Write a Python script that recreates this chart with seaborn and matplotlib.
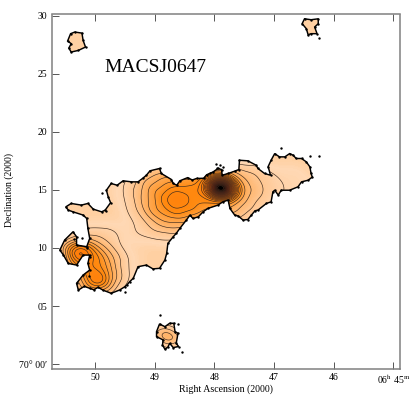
import numpy as np
import matplotlib
matplotlib.use("Agg")
import matplotlib.pyplot as plt
import seaborn as sns
from matplotlib.colors import LinearSegmentedColormap
from matplotlib.path import Path
from matplotlib.patches import PathPatch

# Sources: RA minutes past 06h, Dec arcmin past 70deg, relative brightness
peak_ra = [47.89, 48.66, 49.95, 50.26, 48.86, 48.72]
peak_dec = [15.17, 14.20, 7.16, 9.76, 2.60, 2.20]
peak_w = [95, 6, 10, 15, 9, 9]

lat_ra = [49.33,49.00,48.66,48.33,48.00,47.67,47.33,47.00,46.67,
          49.50,49.16,48.83,48.50,48.16,47.83,47.50,47.16,46.83,46.50,
          49.65,49.33,49.00,48.66,48.33,48.00,47.67,47.33,47.00,46.67,46.40,
          49.50,49.16,48.83,48.50,48.16,47.83,47.50,47.16,46.83,
          49.33,49.00,48.66,48.33,48.00,47.67,47.33,47.00,
          49.50,49.16,48.83,48.50,48.16,47.83,47.50,
          49.65,49.33,49.00,48.66,48.33,48.00,47.67,
          49.16,48.83,48.50,
          50.13,49.81,
          50.30,49.97,49.65,49.30,
          50.46,50.13,49.81,49.47,
          50.30,49.97,49.65,49.30,
          50.46,50.13,49.81,49.47,
          50.30,49.97,49.65,49.30,
          50.13,49.81,49.47,
          50.30,49.97,49.65]
lat_dec = ([16.6]*9 + [15.75]*10 + [14.9]*11 + [14.05]*9 + [13.2]*8 + [12.35]*7 + [11.5]*7 + [10.65]*3
           + [11.75]*2 + [10.9]*4 + [10.05]*4 + [9.2]*4 + [8.35]*4 + [7.5]*4 + [6.65]*3 + [5.8]*3)
lat_w = [3,6,8,10,10,7,5,2,2,
         2,7,11,12,13,11,7,4,2,2,
         1,5,12,15,16,14,11,7,3,2,1,
         2,8,14,16,14,10,7,3,2,
         4,12,16,14,10,8,4,1,
         1,4,10,10,6,4,3,
         1,2,5,6,4,2,2,
         1,2,1,
         2,2,
         4,5,2,1,
         8,12,6,1,
         18,15,6,1,
         8,17,11,2,
         6,17,7,1,
         10,7,1,
         2,5,2]

anchor_ra = [50.60, 46.00]
anchor_dec = [23.00, 3.00]
anchor_w = [48, 48]

# Footprint outlines
main_ra = [50.49,50.40,50.23,50.12,50.03,49.89,49.83,49.74,49.78,49.81,49.73,49.63,49.53,49.39,49.28,49.20,49.14,49.08,48.92,48.89,48.72,48.69,48.63,48.58,48.45,48.37,48.30,48.18,48.13,48.08,
           48.02,47.94,47.88,47.87,47.77,47.66,47.59,47.58,47.44,47.30,47.27,47.16,47.06,47.10,47.05,46.99,46.91,46.82,46.74,46.68,46.63,46.54,46.46,46.40,46.38,46.36,46.43,46.54,46.60,46.74,46.88,46.93,46.99,47.02,47.05,47.13,47.27,47.32,47.38,47.44,47.52,47.60,47.66,47.74,47.77,47.86,47.94,48.11,48.19,48.27,48.36,48.41,
           48.47,48.58,48.64,48.69,48.78,48.80,48.83,48.92,49.03,49.14,49.28,49.36,49.42,49.46,49.50,49.59,49.73,49.87,49.95,50.02,50.09,50.18,50.28,50.31,50.20,50.09,50.12,50.09,50.20,50.31,50.45,50.53,50.59,50.51,50.37,50.31,50.31,50.14,50.09,50.12,50.14,50.20,50.37,50.45]
main_dec = [13.54,13.83,13.69,13.83,13.34,13.11,13.26,13.90,14.40,14.97,15.55,15.40,15.78,15.69,15.69,16.00,16.26,16.64,16.84,16.41,15.89,15.55,15.40,15.78,16.05,15.85,15.98,16.00,16.30,16.41,
            16.55,16.84,16.75,16.26,16.41,16.61,16.75,17.55,17.50,17.12,16.84,16.41,16.26,17.00,17.55,18.12,17.84,17.84,18.12,17.98,17.70,17.70,17.41,16.98,16.41,16.10,15.83,15.69,15.26,14.97,14.97,14.55,14.97,14.83,13.97,13.83,13.26,13.20,12.83,12.45,12.40,12.75,12.83,13.40,14.12,13.97,13.69,13.40,13.11,12.68,12.54,12.83,
            12.40,11.68,11.25,10.97,10.39,9.53,8.96,8.25,8.20,8.53,8.39,7.39,7.10,6.85,6.67,6.38,6.10,6.38,6.62,6.40,6.53,6.70,6.38,6.96,7.67,8.10,8.67,9.39,9.39,8.53,8.67,9.39,9.82,10.68,11.39,10.97,10.25,10.11,10.82,11.68,12.54,12.83,13.11,13.26]
nw_ra = [50.41,50.34,50.22,50.20,50.16,50.28,50.40,50.44,50.40,50.46]
nw_dec = [28.44,28.58,28.49,27.86,27.29,27.00,26.86,27.20,27.58,27.81]
s_ra = [48.97,48.92,48.83,48.75,48.68,48.66,48.61,48.64,48.60,48.69,48.75,48.78,48.83,48.87,48.86,48.97]
s_dec = [2.80,3.46,3.23,3.52,3.52,2.80,2.66,1.80,1.52,1.43,1.80,1.46,1.29,1.66,2.09,2.37]
ne_ra = [46.53,46.49,46.38,46.26,46.26,46.32,46.28,46.38,46.43,46.46]
ne_dec = [29.30,29.72,29.64,29.72,29.30,29.01,28.44,28.44,28.35,28.87]
outlines = [(main_ra, main_dec), (nw_ra, nw_dec), (s_ra, s_dec), (ne_ra, ne_dec)]

speck_ra = [46.88,46.40,46.24,46.24,48.91,48.61,48.55,49.89,50.22,49.50,50.36,50.14,50.09,50.10,49.82,47.95,47.90,47.98,47.85]
speck_dec = [18.64,17.92,17.90,28.06,4.21,3.46,1.09,14.69,10.82,6.24,10.80,10.0,9.25,7.6,13.2,16.9,17.1,17.2,17.0]

xtick_vals = [50, 49, 48, 47, 46, 45]
xtick_labels = ["50", "49", "48", "47", "46", r"06$^{\rm h}$ 45$^{\rm m}$"]
ytick_vals = [0, 5, 10, 15, 20, 25, 30]
ytick_labels = ["70° 00′", "05", "10", "15", "20", "25", "30"]

sns.set_style("white")
plt.rcParams["font.family"] = ["Liberation Serif", "DejaVu Serif"]
plt.rcParams["mathtext.fontset"] = "stix"
plt.rcParams["text.color"] = "black"
plt.rcParams["axes.labelcolor"] = "black"
plt.rcParams["xtick.labelcolor"] = "black"
plt.rcParams["ytick.labelcolor"] = "black"

fig = plt.figure(figsize=(4.15, 4.15), dpi=100)
ax = fig.add_axes([51.5/415, 46.5/415, 348.5/415, 354/415])
XL, YL = (50.73, 44.89), (-0.37, 30.09)
ax.set_xlim(*XL)
ax.set_ylim(*YL)

verts, codes = [], []
for r, d in outlines:
    pts = list(zip(r, d))
    verts += pts + [pts[0]]
    codes += [Path.MOVETO] + [Path.LINETO] * (len(pts) - 1) + [Path.CLOSEPOLY]
foot = Path(verts, codes)
base = PathPatch(foot, facecolor="#FFD0A2", edgecolor="none", zorder=1)
ax.add_patch(base)

cmap = LinearSegmentedColormap.from_list("heat", [
    (0.0, "#FFD0A2"), (0.02, "#FFD8B4"), (0.08, "#FFC48C"), (0.24, "#FF8A10"),
    (0.50, "#FF6A00"), (0.68, "#C83C00"), (0.82, "#781000"), (0.93, "#240200"), (1.0, "#000000")])

ra = peak_ra + lat_ra + anchor_ra
dec = peak_dec + lat_dec + anchor_dec
wt = peak_w + lat_w + anchor_w
BW = 0.125

clip = (sorted(XL), YL)
before = len(ax.collections)
fill_levels = list(np.r_[np.linspace(0.003, 0.97, 200), np.linspace(0.971, 1, 40)])
sns.kdeplot(x=ra, y=dec, weights=wt, fill=True, levels=fill_levels,
            cmap=cmap, bw_method=BW, gridsize=320, clip=clip, ax=ax, zorder=2)
sns.kdeplot(x=ra, y=dec, weights=wt, fill=False, levels=list(np.linspace(0.02, 0.999, 900)),
            colors="#3c2a1e", linewidths=0.45, bw_method=BW, gridsize=320, clip=clip, ax=ax, zorder=3)
lines = ax.collections[-1]
lv = np.asarray(lines.levels)
targets = lv.max() / 26 * np.arange(1, 26)
keep = {int(np.argmin(np.abs(lv - t))) for t in targets}
paths = lines.get_paths()
lines.set_paths([p if i in keep else Path(np.empty((0, 2))) for i, p in enumerate(paths)])
for c in ax.collections[before:]:
    c.set_clip_path(base)
ax.add_patch(PathPatch(foot, facecolor="none", edgecolor="black", lw=1.05, zorder=4))
for r, d in outlines:
    sns.scatterplot(x=r, y=d, s=3, color="black", linewidth=0, ax=ax, zorder=4)
sns.scatterplot(x=speck_ra, y=speck_dec, s=3, color="black", linewidth=0, ax=ax, zorder=4)

ax.set_xlim(*XL)
ax.set_ylim(*YL)
ax.set_xticks(xtick_vals, xtick_labels)
ax.set_yticks(ytick_vals, ytick_labels)
ax.tick_params(axis="x", direction="in", length=5, width=0.7, color="#555555", top=True, bottom=True, pad=3, labelsize=7)
ax.tick_params(axis="y", direction="in", length=5, width=0.7, color="#555555", left=True, right=False, pad=3, labelsize=7)
for s in ax.spines.values():
    s.set_color("#808080"); s.set_linewidth(1.1)
ax.set_xlabel("Right Ascension (2000)", fontsize=7.1, labelpad=-1)
fig.text(9.5/415, 1 - 190/415, "Declination (2000)", rotation=90, ha="center", va="center", fontsize=7)
fig.text(104/415, 1 - 72/415, "MACSJ0647", fontsize=14, ha="left", va="baseline")
fig.savefig("out.png", dpi=100)
